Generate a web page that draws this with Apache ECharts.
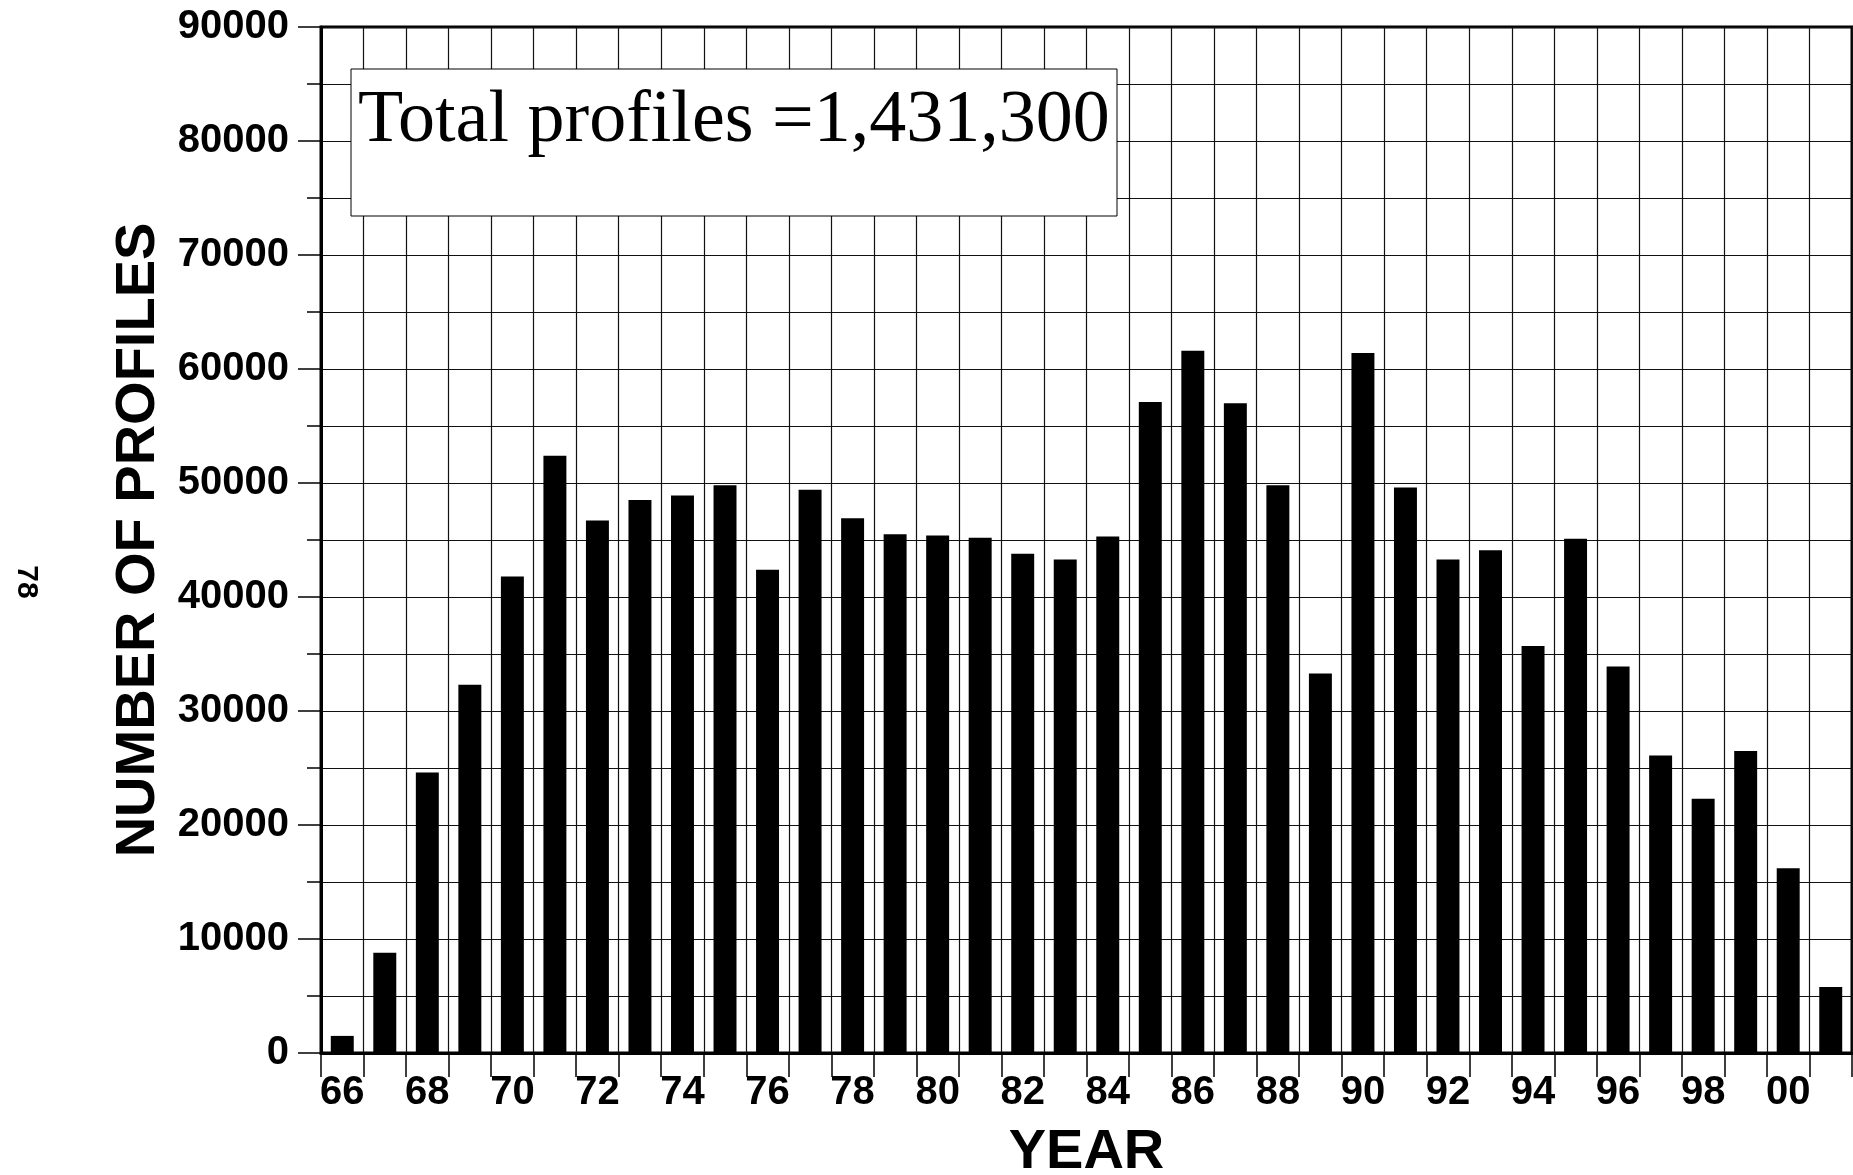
<!DOCTYPE html>
<html>
<head>
<meta charset="utf-8">
<script src="https://cdn.jsdelivr.net/npm/echarts@6/dist/echarts.min.js"></script>
<style>
html,body{margin:0;padding:0;background:#fff;}
#chart{width:1853px;height:1175px;}
</style>
</head>
<body>
<div id="chart"></div>
<script>
const years = ['66','67','68','69','70','71','72','73','74','75','76','77','78','79','80','81','82','83','84','85','86','87','88','89','90','91','92','93','94','95','96','97','98','99','00','01'];
const profiles = [1500,8800,24600,32300,41800,52400,46700,48500,48900,49800,42400,49400,46900,45500,45400,45200,43800,43300,45300,57100,61600,57000,49800,33300,61400,49600,43300,44100,35700,45100,33900,26100,22300,26500,16200,5800];
const yTicks = [0,10000,20000,30000,40000,50000,60000,70000,80000,90000];
const totalText = 'Total profiles =1,431,300';
const pageNumber = '78';
const xTitle = 'YEAR';
const yTitle = 'NUMBER OF PROFILES';

const SANS = '"Liberation Sans", Arial, sans-serif';
const SERIF = '"Liberation Serif", "Times New Roman", serif';

const chart = echarts.init(document.getElementById('chart'), null, {renderer:'canvas'});
chart.setOption({
  animation:false,
  backgroundColor:'#fff',
  grid:{left:321, top:27, width:1531, height:1026, show:true, borderColor:'#000', borderWidth:3, backgroundColor:'transparent', containLabel:false, outerBoundsMode:'none'},
  xAxis:{
    type:'category', data:years, boundaryGap:true,
    axisLine:{show:true, lineStyle:{color:'#000', width:3}},
    axisTick:{show:true, interval:0, length:24, lineStyle:{color:'#000', width:1.5}},
    axisLabel:{interval:1, color:'#000', fontSize:40, fontWeight:'bold', fontFamily:SANS, margin:20},
    splitLine:{show:true, interval:0, lineStyle:{color:'#111', width:1.2}},
    name:xTitle, nameLocation:'middle', nameGap:72,
    nameTextStyle:{color:'#000', fontSize:56, fontWeight:'bold', fontFamily:SANS}
  },
  yAxis:{
    type:'value', min:yTicks[0], max:yTicks[yTicks.length-1], interval:yTicks[1]-yTicks[0],
    axisLine:{show:true, lineStyle:{color:'#000', width:3}},
    axisTick:{show:true, length:23, lineStyle:{color:'#000', width:1.5}},
    minorTick:{show:true, splitNumber:2, length:14, lineStyle:{color:'#000', width:1.5}},
    axisLabel:{color:'#000', fontSize:40, fontWeight:'bold', fontFamily:SANS, margin:32, formatter:function(v){return String(v);}},
    splitLine:{show:true, lineStyle:{color:'#111', width:1.2}},
    minorSplitLine:{show:true, lineStyle:{color:'#111', width:1.2}},
    name:yTitle, nameLocation:'middle', nameGap:151, nameRotate:90,
    nameTextStyle:{color:'#000', fontSize:56, fontWeight:'bold', fontFamily:SANS}
  },
  series:[{
    type:'bar', data:profiles, barWidth:'54%', silent:true,
    itemStyle:{color:'#000'}
  }],
  graphic:[
    {type:'rect', z:100, shape:{x:351, y:69, width:766, height:147}, style:{fill:'#fff', stroke:'#000', lineWidth:1}},
    {type:'text', z:101, x:358, y:122, style:{text:totalText, fill:'#000', font:'normal 74px ' + SERIF, verticalAlign:'middle', align:'left'}},
    {type:'text', z:101, x:26, y:582, rotation:-Math.PI/2, style:{text:pageNumber, fill:'#000', font:'bold 30px ' + SANS, verticalAlign:'middle', align:'center'}}
  ]
});
</script>
</body>
</html>
